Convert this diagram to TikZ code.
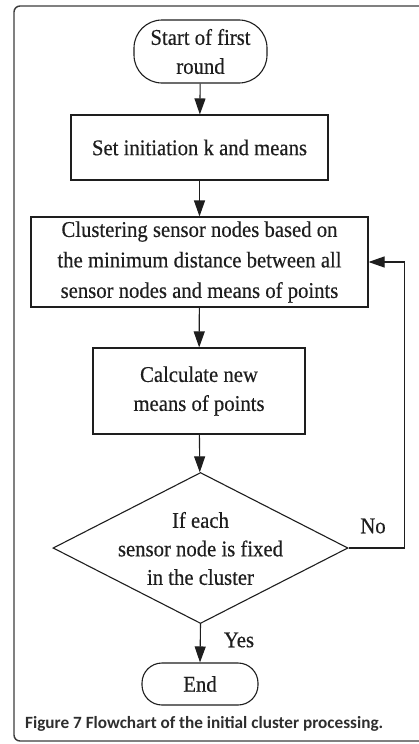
\documentclass[tikz,border=0pt]{standalone}
\usepackage{fontspec}
\setmainfont{Liberation Serif}[FakeStretch=0.92, FakeBold=0.4]
\newfontfamily\capfont{Carlito}
\usetikzlibrary{arrows.meta,shapes.geometric}

\definecolor{ink}{HTML}{1E1E1E}
\definecolor{framegray}{HTML}{3C3C3C}
\definecolor{captext}{HTML}{2E2E2E}

\tikzset{
  flowtext/.style={font=\fontsize{22.5}{29}\selectfont, text=ink, align=center},
  procbox/.style={draw=ink, line width=1.1pt, rectangle, inner sep=0pt, flowtext},
  termbox/.style={draw=ink, line width=1.1pt, rectangle, inner sep=0pt, flowtext},
  decbox/.style={draw=ink, line width=1.1pt, diamond, inner sep=0pt},
  flow/.style={draw=ink, line width=1.1pt, -{Triangle[length=16pt,width=11pt]}},
  edgelabel/.style={flowtext}
}

\begin{document}
\begin{tikzpicture}[x=1pt,y=-1pt]
  \useasboundingbox (0,0) rectangle (418,744);
  \fill[white] (0,0) rectangle (418,744);

  % outer figure frame, open on the right
  \draw[framegray, line width=1.4pt, rounded corners=6pt]
    (430,6) -- (14,6) -- (14,741) -- (430,741);

  % flowchart nodes
  \node[termbox, rounded corners=28pt, minimum width=133pt, minimum height=63pt]
    (start) at (200.5,51.5) {Start of first\\round};
  \node[procbox, minimum width=257pt, minimum height=65pt]
    (init) at (199.5,147.5) {Set initiation k and means};
  \node[procbox, minimum width=337pt, minimum height=90pt,
        font=\fontsize{22.5}{30.5}\selectfont]
    (cluster) at (199.5,262) {Clustering sensor nodes based on\\the minimum distance between all\\sensor nodes and means of points};
  \node[procbox, minimum width=212pt, minimum height=86pt]
    (means) at (199,391) {Calculate new\\means of points};
  \node[decbox, minimum width=295pt, minimum height=151pt]
    (test) at (200.5,548) {};
  \node[flowtext, font=\fontsize{22.5}{28.5}\selectfont]
    (testtext) at (200.5,548.5) {If each\\sensor node is fixed\\in the cluster};
  \node[termbox, rounded corners=20pt, minimum width=116pt, minimum height=42pt]
    (stop) at (200,684) {End};

  % connectors
  \draw[flow] (start) -- (init);
  \draw[flow] (init) -- (cluster);
  \draw[flow] (cluster) -- (means);
  \draw[flow] (means) -- (test);
  \draw[flow] (test.south) -- (stop.north);
  \coordinate (loopcorner) at (404.5,548);
  \draw[flow] (test.east) -- (loopcorner) |- (cluster.east);

  % branch labels
  \node[edgelabel] (yes) at (239,640) {Yes};
  \node[edgelabel] (no) at (373,526) {No};

  % caption
  \node[anchor=west, inner sep=0pt, text=captext,
        font=\capfont\bfseries\fontsize{17.2}{20}\selectfont]
    (caption) at (25,724) {Figure 7 Flowchart of the initial cluster processing.};
\end{tikzpicture}
\end{document}
